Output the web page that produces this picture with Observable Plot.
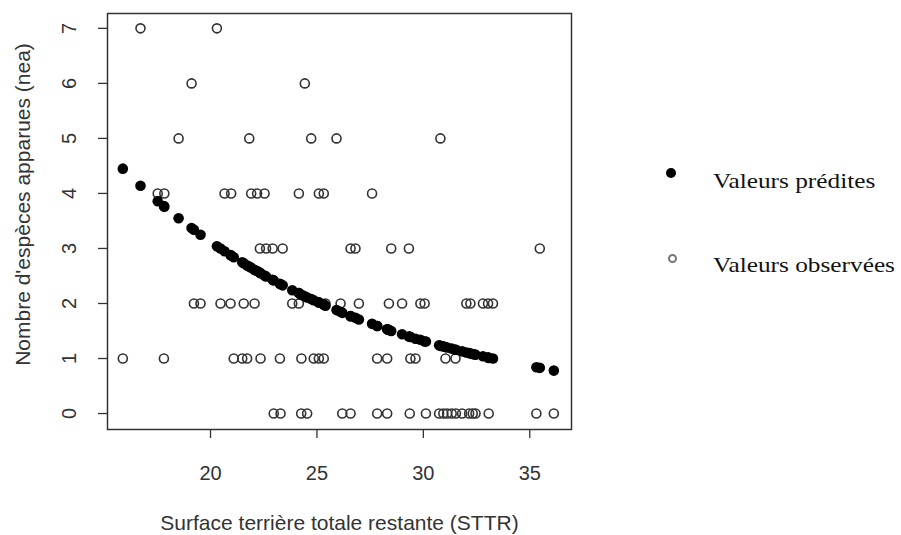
<!DOCTYPE html>
<html><head><meta charset="utf-8">
<script src="https://cdn.jsdelivr.net/npm/d3@7"></script>
<script src="https://cdn.jsdelivr.net/npm/@observablehq/plot@0.6"></script>
<style>
body{margin:0;background:#fff;}
#wrap{position:relative;width:901px;height:535px;overflow:hidden;}
.leg{position:absolute;font-family:"Liberation Serif","Times New Roman",serif;font-size:22px;color:#111;transform-origin:left center;transform:scaleX(1.15);white-space:nowrap;line-height:1;}
.sym{position:absolute;box-sizing:border-box;border-radius:50%;}
</style></head><body><div id="wrap"></div>
<script>
const sttr = [
  16.71, 20.30,
  19.11, 24.43,
  18.50, 21.82, 24.73, 25.92, 30.80,
  17.52, 17.83, 20.66, 20.97, 21.91, 22.19, 22.54, 24.15, 25.09, 25.32, 27.59,
  22.32, 22.61, 22.92, 23.39, 26.58, 26.81, 28.49, 29.32, 35.47,
  19.22, 19.53, 20.47, 20.94, 21.56, 22.07, 23.84, 24.15, 25.40, 26.11, 26.97, 28.38, 29.00, 29.86, 30.06, 32.02, 32.21, 32.80, 33.04, 33.27,
  15.88, 17.81, 21.09, 21.49, 21.72, 22.35, 23.26, 24.27, 24.85, 25.09, 25.32, 27.83, 28.30, 29.39, 29.63, 31.04, 31.51,
  22.97, 23.29, 24.26, 24.54, 26.19, 26.58, 27.83, 28.30, 29.36, 30.12, 30.74, 30.94, 31.12, 31.33, 31.53, 31.82, 32.15, 32.32, 32.45, 33.07, 35.31, 36.13
];
const neaObserved = [
  7, 7,
  6, 6,
  5, 5, 5, 5, 5,
  4, 4, 4, 4, 4, 4, 4, 4, 4, 4, 4,
  3, 3, 3, 3, 3, 3, 3, 3, 3,
  2, 2, 2, 2, 2, 2, 2, 2, 2, 2, 2, 2, 2, 2, 2, 2, 2, 2, 2, 2,
  1, 1, 1, 1, 1, 1, 1, 1, 1, 1, 1, 1, 1, 1, 1, 1, 1,
  0, 0, 0, 0, 0, 0, 0, 0, 0, 0, 0, 0, 0, 0, 0, 0, 0, 0, 0, 0, 0, 0
];
const neaPredicted = [
  4.14, 3.04,
  3.37, 2.13,
  3.55, 2.67, 2.08, 1.88, 1.23,
  3.86, 3.76, 2.95, 2.87, 2.65, 2.59, 2.51, 2.19, 2.02, 1.98, 1.63,
  2.56, 2.49, 2.43, 2.33, 1.77, 1.74, 1.50, 1.40, 0.83,
  3.34, 3.25, 3.00, 2.88, 2.73, 2.61, 2.24, 2.19, 1.96, 1.85, 1.71, 1.52, 1.44, 1.34, 1.31, 1.11, 1.09, 1.04, 1.02, 1.00,
  4.45, 3.77, 2.84, 2.75, 2.69, 2.55, 2.36, 2.16, 2.06, 2.02, 1.98, 1.59, 1.53, 1.39, 1.36, 1.21, 1.16,
  2.42, 2.35, 2.16, 2.11, 1.83, 1.77, 1.59, 1.53, 1.40, 1.31, 1.24, 1.22, 1.20, 1.18, 1.16, 1.13, 1.10, 1.08, 1.07, 1.01, 0.84, 0.78
];
const xTicks = [20, 25, 30, 35];
const yTicks = [0, 1, 2, 3, 4, 5, 6, 7];
const xTitle = "Surface terrière totale restante (STTR)";
const yTitle = "Nombre d'espèces apparues (nea)";
const legendLabels = ["Valeurs prédites", "Valeurs observées"];

const rows = sttr.map((s, i) => ({sttr: s, obs: neaObserved[i], pred: neaPredicted[i]}));
const ink = "#333";
const font = "'Liberation Sans', Arial, sans-serif";

const chart = Plot.plot({
  width: 901, height: 535,
  marginLeft: 107, marginRight: 330, marginTop: 13, marginBottom: 106,
  style: {fontFamily: font, fontSize: "20px", color: ink, background: "#fff"},
  x: {domain: [15.16, 36.96], ticks: xTicks},
  y: {domain: [-0.29, 7.27], ticks: yTicks},
  marks: [
    Plot.frame({stroke: ink, strokeWidth: 1.5}),
    Plot.axisX({ticks: xTicks, tickSize: 9, tickPadding: 27, label: null, stroke: ink, strokeWidth: 1.3, fill: ink, fontSize: 20}),
    Plot.axisY({ticks: yTicks, tickSize: 9, tickPadding: 23, tickRotate: -90, label: null, stroke: ink, strokeWidth: 1.3, fill: ink, fontSize: 20}),
    Plot.text([xTitle], {text: d => d, frameAnchor: "bottom", textAnchor: "middle", lineAnchor: "middle", dy: 94, fontSize: 21, fill: ink}),
    Plot.text([yTitle], {text: d => d, frameAnchor: "left", textAnchor: "middle", lineAnchor: "middle", rotate: -90, dx: -84, dy: -17, fontSize: 21, fill: ink}),
    Plot.dot(rows, {x: "sttr", y: "obs", r: 4.5, stroke: ink, strokeWidth: 1.6, fill: "none"}),
    Plot.dot(rows, {x: "sttr", y: "pred", r: 5.3, fill: "#000", stroke: "none"})
  ]
});
const wrap = document.getElementById("wrap");
wrap.appendChild(chart);

// legend
function addSym(x, y, filled) {
  const s = document.createElement("div");
  s.className = "sym";
  const d = filled ? 10 : 9;
  s.style.left = (x - d / 2) + "px"; s.style.top = (y - d / 2) + "px";
  s.style.width = d + "px"; s.style.height = d + "px";
  if (filled) s.style.background = "#000";
  else s.style.border = "2px solid #777";
  wrap.appendChild(s);
}
function addLabel(x, y, t) {
  const l = document.createElement("div");
  l.className = "leg";
  l.textContent = t;
  l.style.left = x + "px"; l.style.top = y + "px";
  wrap.appendChild(l);
}
addSym(671, 173, true);
addLabel(713, 170, legendLabels[0]);
addSym(672, 258, false);
addLabel(713, 254, legendLabels[1]);
</script></body></html>
